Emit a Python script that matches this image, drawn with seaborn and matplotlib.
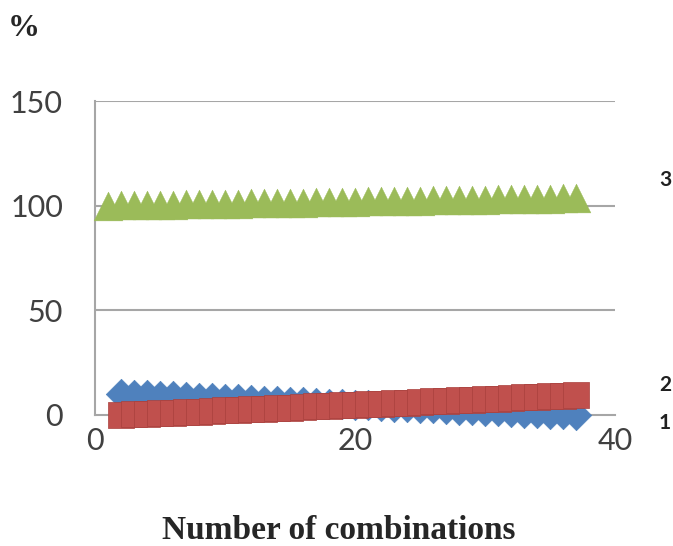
import numpy as np
import pandas as pd
import matplotlib
matplotlib.use('Agg')
import matplotlib.pyplot as plt
import seaborn as sns

# valores (Number of combinations x %)
x_green = list(range(1, 38))
x_other = list(range(2, 38))
serie1 = [10.0, 9.7, 9.4, 9.1, 8.9, 8.6, 8.3, 8.0, 7.7, 7.4, 7.1, 6.9, 6.6, 6.3, 6.0, 5.7,
          5.4, 5.1, 4.9, 4.6, 4.3, 4.0, 3.7, 3.4, 3.1, 2.9, 2.6, 2.3, 2.0, 1.7, 1.4, 1.1,
          0.9, 0.6, 0.3, 0.0]
serie2 = [0.0, 0.3, 0.5, 0.8, 1.1, 1.4, 1.6, 1.9, 2.2, 2.4, 2.7, 3.0, 3.2, 3.5, 3.8, 4.1,
          4.3, 4.6, 4.9, 5.1, 5.4, 5.7, 5.9, 6.2, 6.5, 6.8, 7.0, 7.3, 7.6, 7.8, 8.1, 8.4,
          8.6, 8.9, 9.2, 9.5]
serie3 = [100.0, 100.1, 100.2, 100.3, 100.4, 100.5, 100.6, 100.7, 100.8, 100.9, 101.0,
          101.1, 101.2, 101.3, 101.4, 101.5, 101.6, 101.7, 101.8, 101.9, 102.0, 102.1,
          102.2, 102.3, 102.4, 102.5, 102.6, 102.7, 102.8, 102.9, 103.0, 103.1, 103.2,
          103.3, 103.4, 103.5, 103.6]

df1 = pd.DataFrame({'x': x_other, 'y': serie1})
df2 = pd.DataFrame({'x': x_other, 'y': serie2})
df3 = pd.DataFrame({'x': x_green, 'y': serie3})

sns.set_style('white')
plt.rcParams['font.family'] = ['Lato', 'DejaVu Sans']

fig = plt.figure(figsize=(6.73, 5.46), dpi=100)
ax = fig.add_axes([0.141, 0.240, 0.773, 0.575])

cinza = '#A6A6A6'
for lvl in [50, 100, 150]:
    ax.axhline(lvl, color=cinza, lw=1.5, zorder=0)

sns.scatterplot(data=df1, x='x', y='y', marker='D', s=240, color='#4F81BD',
                edgecolor='#4F81BD', linewidth=0.5, clip_on=False, ax=ax, zorder=3)
sns.scatterplot(data=df3, x='x', y='y', marker='^', s=430, color='#9BBB59',
                edgecolor='#9BBB59', linewidth=0.3, clip_on=False, ax=ax, zorder=3)
sns.scatterplot(data=df2, x='x', y='y', marker='s', s=340, color='#C0504D',
                edgecolor='#A9403D', linewidth=0.5, clip_on=False, ax=ax, zorder=4)

ax.set_xlim(0, 40)
ax.set_ylim(0, 150)
ax.set_xticks([0, 20, 40])
ax.set_yticks([0, 50, 100, 150])
ax.set_xlabel('')
ax.set_ylabel('')
ax.tick_params(axis='both', labelsize=22, labelcolor='#404040', color=cinza,
               length=9, width=1.5, direction='out')
ax.tick_params(axis='x', pad=0)
ax.tick_params(axis='y', pad=14)

for side in ['top', 'right']:
    ax.spines[side].set_visible(False)
for side in ['left', 'bottom']:
    ax.spines[side].set_color(cinza)
    ax.spines[side].set_linewidth(1.5)

fig.text(0.012, 0.948, '%', fontsize=23, fontweight='bold',
         family='Liberation Serif', ha='left', va='center')
fig.text(0.503, 0.028, 'Number of combinations', fontsize=24, fontweight='bold',
         family='Liberation Serif', ha='center', va='center')

for txt, ypx in [('3', 180), ('2', 385), ('1', 423)]:
    fig.text(0.988, 1 - ypx / 546, txt, fontsize=15, fontweight='bold',
             color='#202020', ha='center', va='center')

fig.savefig('out.png', dpi=100)
